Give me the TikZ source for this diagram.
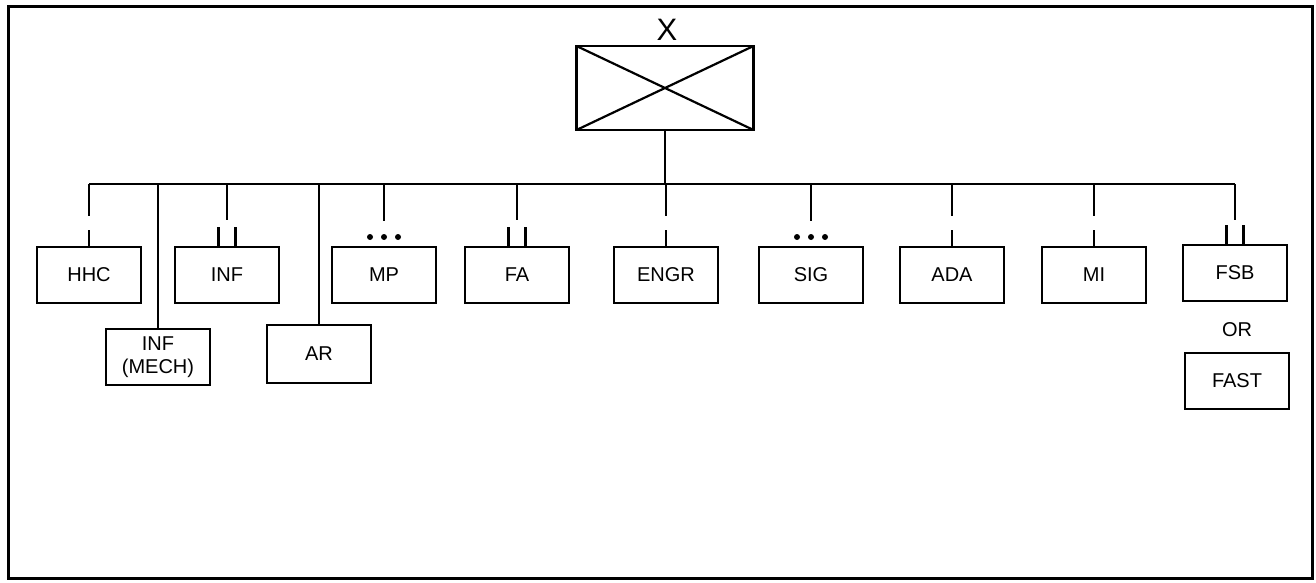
\documentclass[tikz,border=0pt]{standalone}
\usepackage{fontspec}
\setmainfont{Liberation Sans}
\usetikzlibrary{calc}

\begin{document}
\begin{tikzpicture}[x=1pt, y=-1pt]

% Parameters
\def\lw{2.2pt}
\tikzset{
  unit/.style={draw, line width=\lw, outer sep=0pt, inner sep=0pt,
    minimum width=104pt, minimum height=56pt, align=center,
    font=\fontsize{20}{23}\selectfont},
  link/.style={line width=\lw}
}

% Page
\useasboundingbox (0,0) rectangle (1316,583);
\draw[line width=3pt] (8,7) rectangle (1312,578);

% Top box
\node[draw, line width=\lw, outer sep=0pt,
  minimum width=177pt, minimum height=84pt] (xbox) at (665,88) {};
\draw[link] (xbox.north west) -- (xbox.south east)
            (xbox.north east) -- (xbox.south west);
\node[font=\fontsize{31}{32}\selectfont] (xname) at (667,30) {X};

% Units
\node[unit] (hhc)  at (89,275)   {HHC};
\node[unit] (inf)  at (227,275)  {INF};
\node[unit] (mp)   at (384,275)  {MP};
\node[unit] (fa)   at (517,275)  {FA};
\node[unit] (engr) at (666,275)  {ENGR};
\node[unit] (sig)  at (811,275)  {SIG};
\node[unit] (ada)  at (952,275)  {ADA};
\node[unit] (mi)   at (1094,275) {MI};
\node[unit] (fsb)  at (1235,273) {FSB};

\node[unit] (infm) at (158,357) {INF\\(MECH)};
\node[unit, minimum height=58pt] (ar) at (319,354) {AR};

\node[font=\fontsize{20}{23}\selectfont] (or) at (1237,330) {OR};
\node[unit] (fast) at (1237,381) {FAST};

% Bus
\coordinate (bus) at (0,184);
\draw[link] (xbox.south) -- (xbox.south |- bus);
\draw[link] (bus -| hhc.north) -- (bus -| fsb.north);

% Broken stems
\foreach \n in {hhc,engr,ada,mi} {
  \draw[link] (bus -| \n.north) -- ++(0,32);
  \draw[link] (\n.north) -- ++(0,-17);
}

% Double stems
\foreach \n in {inf,fa,fsb} {
  \draw[link] (bus -| \n.north) -- ++(0,36);
  \draw[link] ($(\n.north)+(-8.5,0)$) -- ++(0,-20);
  \draw[link] ($(\n.north)+(8.5,0)$) -- ++(0,-20);
}

% Dotted stems
\foreach \n in {mp,sig} {
  \draw[link] (bus -| \n.north) -- ++(0,37);
  \foreach \dx in {-14,0,14}
    \fill ($(\n.north)+(\dx,-10)$) circle (3);
}

% Long stems
\draw[link] (bus -| infm.north) -- (infm.north);
\draw[link] (bus -| ar.north) -- (ar.north);

\end{tikzpicture}
\end{document}
